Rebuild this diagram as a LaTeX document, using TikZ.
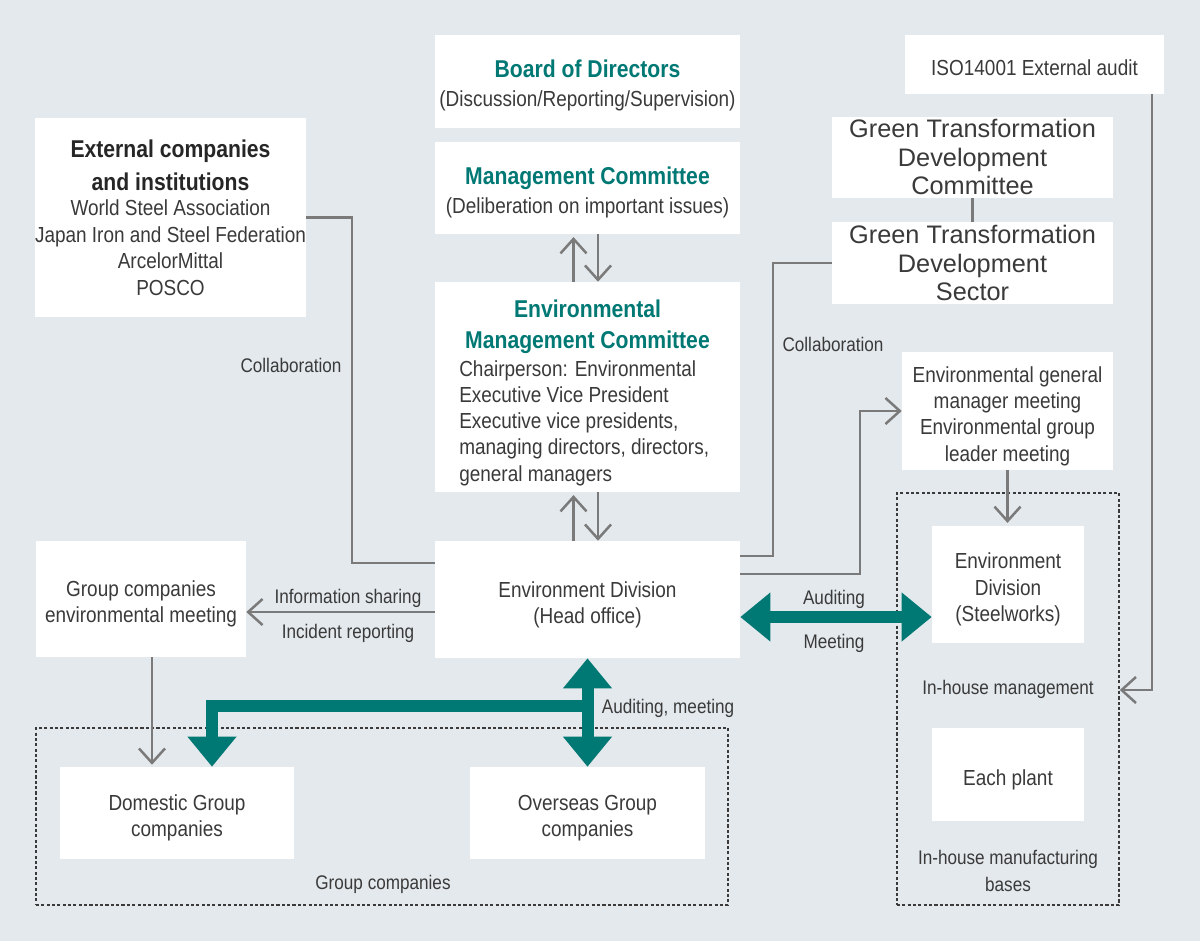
\documentclass[tikz,border=0pt]{standalone}
\usepackage{fontspec}
\setmainfont{Liberation Sans}[FakeStretch=0.87]
\newfontfamily\widefont{Liberation Sans}
\usetikzlibrary{arrows.meta,calc}

\definecolor{bgblue}{RGB}{228,233,237}
\definecolor{nsteal}{RGB}{0,120,116}
\definecolor{txt}{RGB}{58,58,58}
\definecolor{lgray}{RGB}{122,122,122}

\newcommand{\hd}[2][nsteal]{{\fontsize{17.3}{21}\selectfont\bfseries\color{#1}#2}}
\newcommand{\topgap}{\rule{0pt}{18.5pt}}

\tikzset{
  box/.style 2 args={fill=white, inner sep=0pt, align=center, text=txt,
    minimum width=#1*0.025cm, minimum height=#2*0.025cm,
    font=\fontsize{15.5}{18.8}\selectfont},
  widebox/.style 2 args={box={#1}{#2}, font=\widefont\fontsize{18}{20.3}\selectfont},
  lbl/.style={text=txt, align=center, inner sep=0pt, font=\fontsize{14}{18.8}\selectfont},
  dbox/.style 2 args={draw=txt, dash pattern=on 2.2pt off 1.6pt, line width=0.035cm,
    minimum width=#1*0.025cm, minimum height=#2*0.025cm, inner sep=0pt},
  gline/.style={draw=lgray, line width=0.0625cm},
  garrow/.style={gline, -{Straight Barb[length=0.36cm, width=0.65cm]}},
  thead/.tip={Triangle[width=1.175cm, length=0.75cm]},
  tarrow/.style={draw=nsteal, line width=0.3cm, thead-thead},
  tbranch/.style={draw=nsteal, line width=0.3cm, -thead},
}

\begin{document}
\begin{tikzpicture}[x=0.025cm, y=-0.025cm]

  \fill[bgblue] (0,0) rectangle (1200,941);
  \useasboundingbox (0,0) rectangle (1200,941);

  \node[dbox={222}{412}] (bases) at (1008,699) {};
  \node[dbox={692}{177}] (group) at (382,816.5) {};

  \begin{scope}
    \node[box={305}{93}] (board) at (587.5,81.5)
      {\topgap\hd{Board of Directors}\\[2pt](Discussion/Reporting/Supervision)};
    \node[box={305}{92}] (mgmt) at (587.5,188)
      {\topgap\hd{Management Committee}\\[2pt](Deliberation on important issues)};
    \node[box={305}{210}] (emc) at (587.5,387) {};
    \node[box={305}{117}] (envdiv) at (587.5,599.5) {\topgap Environment Division\\(Head office)};
    \node[box={269}{199}] (ext) at (170.5,217.5)
      {\hd[black!85]{External companies}\\[5pt]\hd[black!85]{and institutions}\\[-1pt]
       World Steel Association\\Japan Iron and Steel Federation\\ArcelorMittal\\POSCO};
    \node[box={210}{116}] (gcm) at (141,599) {\topgap Group companies\\environmental meeting};
    \node[box={259}{59}] (iso) at (1034.5,64.5) {\rule{0pt}{15.5pt}ISO14001 External audit};
    \node[widebox={281}{81}] (gtc) at (972.5,157) {Green Transformation\\Development\\Committee};
    \node[widebox={281}{82}] (gts) at (972.5,263) {Green Transformation\\Development\\Sector};
    \node[box={211}{118}] (egm) at (1007.5,411)
      {\topgap Environmental general\\manager meeting\\Environmental group\\leader meeting};
    \node[box={152}{117}] (steel) at (1008,584.5) {\topgap Environment\\Division\\(Steelworks)};
    \node[box={152}{93}] (plant) at (1008,774.5) {\topgap Each plant};
    \node[box={234}{92}] (dom) at (177,813) {\topgap Domestic Group\\companies};
    \node[box={235}{92}] (ovs) at (587.5,813) {\topgap Overseas Group\\companies};
  \end{scope}

  \node[lbl] (emctitle) at (587.5,327) {\hd{Environmental}\\[3pt]\hd{Management Committee}};
  \node[lbl, anchor=west, font=\fontsize{15.5}{18.7}\selectfont, align=left] (emcbody) at (459,423)
    {Chairperson: Environmental\\Executive Vice President\\Executive vice presidents,\\
     managing directors, directors,\\general managers};

  \coordinate (collL) at (352,563);
  \coordinate (collR) at (773,556);
  \coordinate (mtgR) at (860,574);
  \coordinate (isoturn) at (1152,690);
  \coordinate (info) at (340,612);
  \coordinate (gcmdown) at (152,700);
  \coordinate (audit) at (835,617);
  \coordinate (tbr) at (588,706);
  \coordinate (tdom) at (212,706);

  \draw[gline] (ext.east) -| (collL) -- (collL -| envdiv.west);
  \draw[gline] (collR -| envdiv.east) -- (collR) |- (gts.west);
  \draw[garrow] (mtgR -| envdiv.east) -- (mtgR) |- (egm.west);
  \draw[gline] (gtc.south) -- (gts.north);
  \draw[garrow, shorten >=0.07cm] (egm.south) -- (egm.south |- steel.north);
  \draw[garrow] (isoturn |- iso.south) -- (isoturn) -- (isoturn -| bases.east);
  \draw[garrow] (info -| envdiv.west) -- (info -| gcm.east);
  \draw[garrow, shorten >=0.05cm] (gcmdown |- gcm.south) -- (gcmdown |- dom.north);

  \draw[garrow, shorten >=0.07cm] ($(emc.north)+(-14,0)$) -- ($(mgmt.south)+(-14,0)$);
  \draw[garrow] ($(mgmt.south)+(10.5,0)$) -- ($(emc.north)+(10.5,0)$);
  \draw[garrow, shorten >=0.07cm] ($(envdiv.north)+(-14,0)$) -- ($(emc.south)+(-14,0)$);
  \draw[garrow] ($(emc.south)+(10.5,0)$) -- ($(envdiv.north)+(10.5,0)$);

  \draw[tarrow] (audit -| envdiv.east) -- (audit -| steel.west);
  \draw[tarrow] (envdiv.south) -- (ovs.north);
  \draw[tbranch] (tbr) -- (tdom) -- (tdom |- dom.north);

  \node[lbl] (collabL) at (291,365) {Collaboration};
  \node[lbl] (collabR) at (833,344) {Collaboration};
  \node[lbl] (infoshare) at (348,598) {Information sharing};
  \node[lbl] (incident) at (348,633) {Incident reporting};
  \node[lbl] (auditing) at (834,599) {Auditing};
  \node[lbl] (meeting) at (834,643) {Meeting};
  \node[lbl] (auditmeet) at (668,708) {Auditing, meeting};
  \node[lbl] (inhouse) at (1008,689) {In-house management};
  \node[lbl] (mfgbases) at (1008,871) {In-house manufacturing\\bases};
  \node[lbl] (grplbl) at (383,884) {Group companies};

\end{tikzpicture}
\end{document}
